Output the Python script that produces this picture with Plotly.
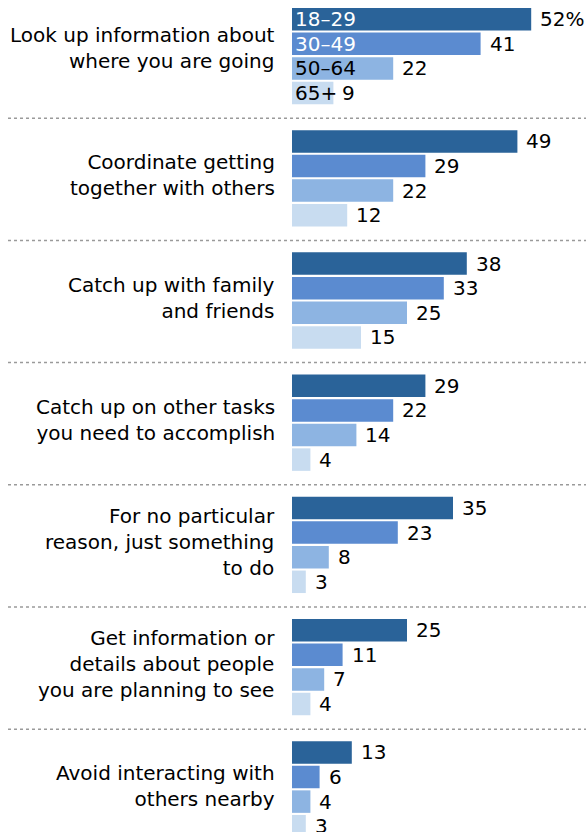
import plotly.graph_objects as go

# Survey data: share of cellphone owners using phone in social settings, by age
activities = [
    "Look up information about<br>where you are going",
    "Coordinate getting<br>together with others",
    "Catch up with family<br>and friends",
    "Catch up on other tasks<br>you need to accomplish",
    "For no particular<br>reason, just something<br>to do",
    "Get information or<br>details about people<br>you are planning to see",
    "Avoid interacting with<br>others nearby",
]
age_groups = ["18–29", "30–49", "50–64", "65+"]
age_18_29 = [52, 49, 38, 29, 35, 25, 13]
age_30_49 = [41, 29, 33, 22, 23, 11, 6]
age_50_64 = [22, 22, 25, 14, 8, 7, 4]
age_65_plus = [9, 12, 15, 4, 3, 4, 3]

series = [age_18_29, age_30_49, age_50_64, age_65_plus]
colors = ["#2a6399", "#5b8bd0", "#8db4e2", "#c8dcf0"]
inner_text_colors = ["white", "white", "black", "black"]

W, H = 586, 832
GROUP_STEP = 122.2
BAR_STEP = 24.6
BAR_H = 22.5
TOP = 19.2
FONT = "DejaVu Sans"
FS = 20

def bar_y(i, j):
    return TOP + i * GROUP_STEP + j * BAR_STEP

fig = go.Figure()
annotations = []
shapes = []

for j, vals in enumerate(series):
    ys = [bar_y(i, j) for i in range(len(activities))]
    fig.add_trace(go.Bar(
        x=vals, y=ys, orientation="h", width=BAR_H,
        marker=dict(color=colors[j], line=dict(width=0)),
        hoverinfo="skip", showlegend=False,
    ))
    for i, v in enumerate(vals):
        label = f"{v}%" if (i == 0 and j == 0) else str(v)
        annotations.append(dict(
            x=v, y=ys[i], xref="x", yref="y", text=label,
            xanchor="left", yanchor="middle", xshift=7, showarrow=False,
            font=dict(family=FONT, size=FS, color="black"),
        ))
    # age labels inside the first group's bars
    annotations.append(dict(
        x=0, y=ys[0], xref="x", yref="y", text=age_groups[j],
        xanchor="left", yanchor="middle", xshift=1, showarrow=False,
        font=dict(family=FONT, size=FS, color=inner_text_colors[j]),
    ))

for i, name in enumerate(activities):
    # first label sits a little higher, beside the age key
    lift = 8 if i == 0 else 3
    center = (bar_y(i, 0) + bar_y(i, 3)) / 2 - lift
    annotations.append(dict(
        x=277 / W, y=center, xref="paper", yref="y", text=name,
        xanchor="right", yanchor="middle", align="right", showarrow=False,
        font=dict(family=FONT, size=FS, color="black"),
    ))
    if i > 0:
        sep = bar_y(i, 0) - 11.2 - 12
        shapes.append(dict(
            type="line", xref="paper", yref="y", x0=8 / W, x1=1, y0=sep, y1=sep,
            line=dict(color="#9a9a9a", width=1.5, dash="dot"),
        ))

X0 = 292
PX_PER_UNIT = 4.6
fig.update_layout(
    width=W, height=H,
    margin=dict(l=0, r=0, t=0, b=0),
    paper_bgcolor="white", plot_bgcolor="white",
    barmode="overlay",
    xaxis=dict(domain=[X0 / W, 1], range=[0, (W - X0) / PX_PER_UNIT],
               visible=False, fixedrange=True),
    yaxis=dict(domain=[0, 1], range=[H, 0], visible=False, fixedrange=True),
    annotations=annotations, shapes=shapes,
)

fig.write_html("out.html")
